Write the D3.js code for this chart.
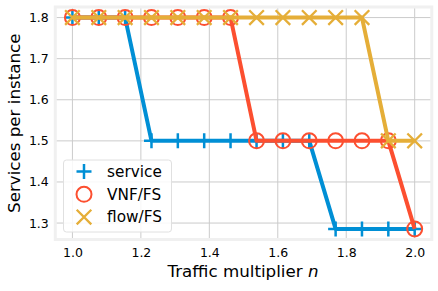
<!DOCTYPE html>
<html>
<head>
<meta charset="utf-8">
<script src="https://cdn.jsdelivr.net/npm/d3@7"></script>
<style>
  body { margin: 0; background: #fff; }
  text { font-family: "DejaVu Sans", sans-serif; fill: #000; }
</style>
</head>
<body>
<svg width="438" height="291"></svg>
<script>
// data
var nValues = [1.0, 1.077, 1.154, 1.231, 1.308, 1.385, 1.462, 1.538, 1.615, 1.692, 1.769, 1.846, 1.923, 2.0];
var serviceValues = [1.8, 1.8, 1.8, 1.5, 1.5, 1.5, 1.5, 1.5, 1.5, 1.5, 1.2857, 1.2857, 1.2857, 1.2857];
var vnfValues = [1.8, 1.8, 1.8, 1.8, 1.8, 1.8, 1.8, 1.5, 1.5, 1.5, 1.5, 1.5, 1.5, 1.2857];
var flowValues = [1.8, 1.8, 1.8, 1.8, 1.8, 1.8, 1.8, 1.8, 1.8, 1.8, 1.8, 1.8, 1.5, 1.5];
var seriesNames = ["service", "VNF/FS", "flow/FS"];
var xTicks = [1.0, 1.2, 1.4, 1.6, 1.8, 2.0];
var yTicks = [1.3, 1.4, 1.5, 1.6, 1.7, 1.8];

var colors = ["#008fd5", "#fc4f30", "#e5ae38"];
var markers = ["plus", "circle", "cross"];

var svg = d3.select("svg");

var xs = d3.scaleLinear().domain([0.95, 2.05]).range([55.3, 431.8]);
var ys = d3.scaleLinear().domain([1.26, 1.8257]).range([239.5, 7]);

// grid
svg.append("g").selectAll("line").data(xTicks).enter().append("line")
  .attr("x1", function(d) { return xs(d); }).attr("x2", function(d) { return xs(d); })
  .attr("y1", ys.range()[0]).attr("y2", ys.range()[1])
  .attr("stroke", "#cbcbcb").attr("stroke-width", 1);
svg.append("g").selectAll("line").data(yTicks).enter().append("line")
  .attr("y1", function(d) { return ys(d); }).attr("y2", function(d) { return ys(d); })
  .attr("x1", xs.range()[0]).attr("x2", xs.range()[1])
  .attr("stroke", "#cbcbcb").attr("stroke-width", 1);

// frame
svg.append("rect")
  .attr("x", xs.range()[0]).attr("y", ys.range()[1])
  .attr("width", xs.range()[1] - xs.range()[0])
  .attr("height", ys.range()[0] - ys.range()[1])
  .attr("fill", "none").attr("stroke", "#f0f0f0").attr("stroke-width", 3);

// axes (labels only)
var xa = d3.axisBottom(xs).tickValues(xTicks).tickFormat(d3.format(".1f")).tickSize(0).tickPadding(9);
var ya = d3.axisLeft(ys).tickValues(yTicks).tickFormat(d3.format(".1f")).tickSize(0).tickPadding(6);

var gx = svg.append("g").attr("transform", "translate(0," + ys.range()[0] + ")").call(xa);
var gy = svg.append("g").attr("transform", "translate(" + (xs.range()[0] - 0.5) + ",0)").call(ya);
[gx, gy].forEach(function(g) {
  g.select(".domain").remove();
  g.selectAll("text").style("font-size", "12.5px").attr("fill", "#000")
    .style("font-family", "DejaVu Sans, sans-serif");
});

function drawMarker(g, type, color, x, y) {
  if (type == "plus") {
    g.append("path").attr("d", "M" + (x - 7.5) + "," + y + "H" + (x + 7.5) + "M" + x + "," + (y - 7.5) + "V" + (y + 7.5))
      .attr("stroke", color).attr("stroke-width", 2.5).attr("fill", "none");
  } else if (type == "circle") {
    g.append("circle").attr("cx", x).attr("cy", y).attr("r", 7.5)
      .attr("stroke", color).attr("stroke-width", 2).attr("fill", "none");
  } else {
    var s = 7.3;
    g.append("path").attr("d", "M" + (x - s) + "," + (y - s) + "L" + (x + s) + "," + (y + s) + "M" + (x - s) + "," + (y + s) + "L" + (x + s) + "," + (y - s))
      .attr("stroke", color).attr("stroke-width", 2.3).attr("fill", "none");
  }
}

var allSeries = [serviceValues, vnfValues, flowValues];
var line = d3.line()
  .x(function(d, i) { return xs(nValues[i]); })
  .y(function(d) { return ys(d); });

allSeries.forEach(function(vals, k) {
  var g = svg.append("g");
  g.append("path").datum(vals).attr("d", line)
    .attr("fill", "none").attr("stroke", colors[k]).attr("stroke-width", 4)
    .attr("stroke-linejoin", "round");
  vals.forEach(function(v, i) {
    drawMarker(g, markers[k], colors[k], xs(nValues[i]), ys(v));
  });
});

// legend
var legend = svg.append("g").attr("transform", "translate(63.5,160)");
legend.append("rect").attr("width", 108).attr("height", 72).attr("rx", 3)
  .attr("fill", "#fff").attr("fill-opacity", 0.85).attr("stroke", "#e0e0e0").attr("stroke-width", 1);
seriesNames.forEach(function(name, k) {
  var cy = 11.5 + k * 22.8;
  drawMarker(legend, markers[k], colors[k], 20.5, cy);
  legend.append("text").attr("x", 43.5).attr("y", cy).attr("dy", "0.35em")
    .style("font-size", "15.3px").text(name);
});

// axis titles
var xl = svg.append("text").attr("x", 243).attr("y", 277).attr("text-anchor", "middle")
  .style("font-size", "16.7px");
xl.append("tspan").text("Traffic multiplier ");
xl.append("tspan").style("font-style", "italic").text("n");

svg.append("text").attr("transform", "translate(20," + ((ys.range()[0] + ys.range()[1]) / 2) + ") rotate(-90)")
  .attr("text-anchor", "middle").style("font-size", "16.7px").text("Services per instance");
</script>
</body>
</html>
